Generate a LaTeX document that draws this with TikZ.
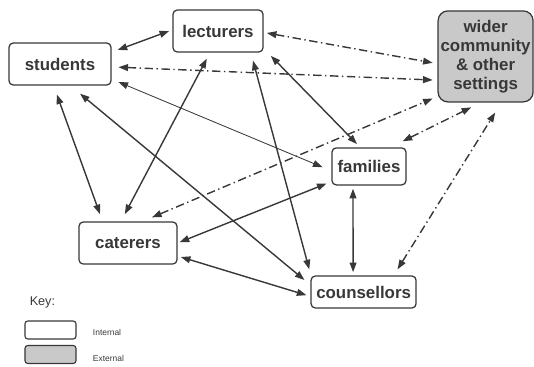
\documentclass[tikz,border=0pt]{standalone}
\usepackage{fontspec}
\setmainfont{Liberation Sans}
\usepackage{tikz}
\usetikzlibrary{arrows.meta}

\definecolor{inkgrey}{HTML}{383838}
\definecolor{extgrey}{HTML}{C9C9C9}

\begin{document}
\begin{tikzpicture}[
    box/.style={draw=inkgrey,line width=0.9pt,rounded corners=3pt,fill=white,
      text=inkgrey,font=\fontsize{12}{13.5}\selectfont\bfseries,inner sep=0pt},
    extbox/.style={box,fill=extgrey,rounded corners=7pt,align=center},
    link/.style={inkgrey,line width=1pt,{Triangle[length=2.4mm,width=1.7mm]}-{Triangle[length=2.4mm,width=1.7mm]}},
    thinlink/.style={link,line width=0.6pt},
    dashlink/.style={link,dash pattern=on 6pt off 2.5pt on 1pt off 2.5pt}
  ]
    \useasboundingbox (0,0) rectangle (13.35,-9.175);

    % Nodes for the groups
    \node[box,minimum width=2.55cm,minimum height=1.05cm] (students) at (1.5,-1.6) {students};
    \node[box,minimum width=2.25cm,minimum height=1.05cm] (lecturers) at (5.45,-0.775) {lecturers};
    \node[extbox,minimum width=2.375cm,minimum height=2.275cm] (wider) at (12.14,-1.41) {wider\\community\\\& other\\settings};
    \node[box,minimum width=1.85cm,minimum height=0.925cm] (families) at (9.225,-4.16) {families};
    \node[box,minimum width=2.45cm,minimum height=1.05cm] (caterers) at (3.2,-6.075) {caterers};
    \node[box,minimum width=2.625cm,minimum height=0.8cm] (counsellors) at (9.09,-7.3) {counsellors};

    % Key
    \node[anchor=west,text=inkgrey,font=\fontsize{9}{10}\selectfont] (key) at (0.62,-7.55) {Key:};
    \node[draw=inkgrey,line width=0.8pt,rounded corners=2pt,minimum width=1.275cm,minimum height=0.45cm] (keyint) at (1.2625,-8.25) {};
    \node[draw=inkgrey,line width=0.8pt,rounded corners=2pt,fill=extgrey,minimum width=1.275cm,minimum height=0.45cm] (keyext) at (1.2625,-8.8625) {};
    \node[anchor=west,text=inkgrey,font=\fontsize{6}{7}\selectfont] (intlabel) at (2.2,-8.3) {Internal};
    \node[anchor=west,text=inkgrey,font=\fontsize{6}{7}\selectfont] (extlabel) at (2.2,-8.95) {External};

    % Solid links
    \draw[link] ([xshift=0.15cm,yshift=0.35cm]students.east) -- ([xshift=-0.08cm]lecturers.west);
    \draw[thinlink] ([xshift=0.17cm,yshift=-0.45cm]students.east) -- ([xshift=-0.22cm,yshift=-0.02cm]families.west);
    \draw[link] ([xshift=0.18cm,yshift=-0.08cm]lecturers.south east) -- ([xshift=-0.3cm,yshift=0.08cm]families.north);
    \draw[link] ([xshift=0.875cm,yshift=-0.2cm]lecturers.south) -- ([xshift=-0.03cm,yshift=0.15cm]counsellors.north west);
    \draw[link] ([xshift=-0.08cm,yshift=-0.22cm]students.south) -- ([xshift=-0.7cm,yshift=0.18cm]caterers.north);
    \draw[link] ([xshift=-0.28cm,yshift=-0.15cm]lecturers.south) -- ([xshift=-0.08cm,yshift=0.18cm]caterers.north);
    \draw[link] ([xshift=0.5cm,yshift=-0.2cm]students.south) -- ([xshift=-0.15cm,yshift=0.3cm]counsellors.west);
    \draw[link] ([xshift=0.05cm,yshift=0.02cm]caterers.east) -- ([xshift=-0.12cm,yshift=0.05cm]families.south west);
    \draw[link] ([xshift=0.08cm,yshift=-0.35cm]caterers.east) -- ([xshift=-0.1cm,yshift=-0.08cm]counsellors.west);
    \draw[link] ([xshift=-0.4cm,yshift=-0.08cm]families.south) -- ([xshift=-0.2625cm,yshift=0.08cm]counsellors.north);

    % Dash-dot links to the wider community
    \draw[dashlink] ([xshift=0.08cm,yshift=-0.05cm]lecturers.east) -- ([xshift=-0.12cm,yshift=-0.16cm]wider.west);
    \draw[dashlink] ([xshift=0.17cm,yshift=-0.08cm]students.east) -- ([xshift=-0.12cm,yshift=-0.59cm]wider.west);
    \draw[dashlink] ([xshift=0.6cm,yshift=0.1cm]caterers.north) -- ([xshift=-0.12cm,yshift=0.1cm]wider.south west);
    \draw[dashlink] ([xshift=-0.1cm,yshift=0.15cm]families.north east) -- ([xshift=-0.36cm,yshift=-0.12cm]wider.south);
    \draw[dashlink] ([xshift=-0.48cm,yshift=0.15cm]counsellors.north east) -- ([xshift=0.24cm,yshift=-0.25cm]wider.south);
\end{tikzpicture}
\end{document}
